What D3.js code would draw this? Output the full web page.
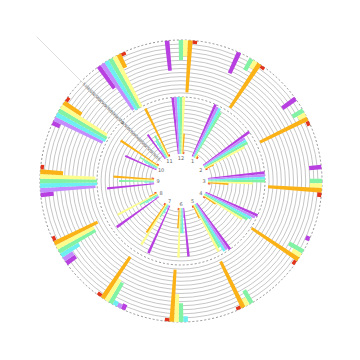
<!DOCTYPE html>
<html>
<head>
<meta charset="utf-8">
<script src="https://cdn.jsdelivr.net/npm/d3@7"></script>
<style>
  body { margin: 0; background: #fff; }
  svg { display: block; font-family: "DejaVu Sans", sans-serif; }
</style>
</head>
<body>
<div id="chart"></div>
<script>
// categories, clockwise from the top
const categories = ["12", "1", "2", "3", "4", "5", "6", "7", "8", "9", "10", "11"];
const seriesNames = ["A", "B", "C", "D", "E", "F", "G"];
const seriesColors = ["#b83fe0", "#c48cff", "#6eeff2", "#82f3a4", "#fdfd8e", "#fbb216", "#e2341d"];
const radiusTicks = [0, 5, 10, 15, 20, 25, 30, 35, 40, 45, 50, 55, 60, 65, 70];

// inner ring values (grow outward)
const innerA = [70, 70, 70, 70, 70, 70, 60, 64, 64, 58, 42, 37];
const innerB = [70, 68, 61, 70, 68, 68, 12, 6, 6, 6, 12, 12];
const innerC = [70, 68, 61, 70, 64, 68, 31, 12, 18, 12, 18, 25];
const innerD = [70, 64, 61, 70, 61, 61, 31, 18, 25, 43, 25, 31];
const innerE = [70, 6, 55, 55, 55, 65, 61, 59, 55, 25, 18, 18];
const innerF = [25, 4, 12, 25, 18, 18, 25, 43, 10, 50, 56, 66];
const innerG = [3, 3, 3, 3, 3, 3, 3, 3, 3, 3, 3, 3];

// outer ring values (grow inward from the rim)
const outerA = [37, 28, 20, 15, 5, 0, 0, 7, 14, 16, 10, 33];
const outerB = [0, 0, 0, 0, 0, 0, 0, 5, 14, 68, 66, 68];
const outerC = [0, 0, 0, 0, 0, 0, 7, 6, 26, 70, 68, 70];
const outerD = [25, 16, 15, 15, 20, 18, 23, 29, 52, 70, 68, 70];
const outerE = [20, 10, 10, 15, 12, 10, 34, 31, 52, 68, 66, 70];
const outerF = [64, 65, 65, 66, 69, 63, 64, 61, 59, 28, 26, 18];
const outerG = [4, 4, 4, 5, 4, 4, 4, 4, 4, 4, 4, 4];

const innerSeries = [innerA, innerB, innerC, innerD, innerE, innerF, innerG];
const outerSeries = [outerA, outerB, outerC, outerD, outerE, outerF, outerG];

const width = 360, height = 360;
const cx = 181, cy = 181;
const rHole = 27, rMid = 84, rRim = 141;

const svg = d3.select("#chart")
    .append("svg")
    .attr("width", width)
    .attr("height", height);

const g = svg.append("g")
    .attr("transform", `translate(${cx}, ${cy})`);

const step = 2 * Math.PI / categories.length;
const angle = d3.scaleBand()
    .domain(categories)
    .range([-step / 2, 2 * Math.PI - step / 2]);

const angleSub = d3.scaleBand()
    .domain(seriesNames)
    .range([0, angle.bandwidth()])
    .paddingOuter(4.4);

const rInner = d3.scaleLinear().domain([0, 70]).range([rHole, rMid]);
const rOuter = d3.scaleLinear().domain([0, 70]).range([rRim, rMid]);

// grid circles
const gridTicks = radiusTicks.slice(1, -1);
g.append("g").selectAll("circle")
    .data(gridTicks)
    .join("circle")
    .attr("r", d => rInner(d))
    .attr("fill", "none")
    .attr("stroke", "#a0a0a0")
    .attr("stroke-width", 0.6);

g.append("g").selectAll("circle")
    .data(gridTicks)
    .join("circle")
    .attr("r", d => rOuter(d))
    .attr("fill", "none")
    .attr("stroke", "#a0a0a0")
    .attr("stroke-width", 0.6);

g.append("g").selectAll("circle")
    .data([rMid, rRim])
    .join("circle")
    .attr("r", d => d)
    .attr("fill", "none")
    .attr("stroke", "#777")
    .attr("stroke-width", 0.8)
    .attr("stroke-dasharray", "2,2");

// radius axis line toward the top-left
const axAng = -Math.PI / 4;
g.append("line")
    .attr("x1", rHole * Math.sin(axAng))
    .attr("y1", -rHole * Math.cos(axAng))
    .attr("x2", 204 * Math.sin(axAng))
    .attr("y2", -204 * Math.cos(axAng))
    .attr("stroke", "#d4d4d4")
    .attr("stroke-width", 0.8);

// bars
const arc = d3.arc();
seriesNames.forEach((name, i) => {
    const inner = categories.map((c, j) => ({ cat: c, v: innerSeries[i][j] }));
    const outer = categories.map((c, j) => ({ cat: c, v: outerSeries[i][j] }));

    g.append("g").selectAll("path")
        .data(inner.filter(d => d.v > 0))
        .join("path")
        .attr("d", d => arc({
            innerRadius: rInner(0),
            outerRadius: rInner(d.v),
            startAngle: angle(d.cat) + angleSub(name),
            endAngle: angle(d.cat) + angleSub(name) + angleSub.bandwidth()
        }))
        .attr("fill", seriesColors[i]);

    g.append("g").selectAll("path")
        .data(outer.filter(d => d.v > 0))
        .join("path")
        .attr("d", d => arc({
            innerRadius: rOuter(d.v),
            outerRadius: rOuter(0),
            startAngle: angle(d.cat) + angleSub(name),
            endAngle: angle(d.cat) + angleSub(name) + angleSub.bandwidth()
        }))
        .attr("fill", seriesColors[i]);
});

// radius axis labels
const labelTicks = radiusTicks.slice(1);
function placeLabels(scale) {
    g.append("g").selectAll("text")
        .data(labelTicks)
        .join("text")
        .attr("transform", d => {
            const r = scale(d);
            return `translate(${r * Math.sin(axAng)}, ${-r * Math.cos(axAng)}) rotate(45)`;
        })
        .attr("text-anchor", "middle")
        .attr("dominant-baseline", "central")
        .style("font-size", "4px")
        .style("fill", "#666")
        .text(d => d);
}
placeLabels(rInner);
placeLabels(rOuter);

// angle labels around the hole
g.append("g").selectAll("text")
    .data(categories)
    .join("text")
    .attr("x", d => 23 * Math.sin(angle(d) + step / 2))
    .attr("y", d => -23 * Math.cos(angle(d) + step / 2))
    .attr("text-anchor", "middle")
    .attr("dominant-baseline", "central")
    .style("font-size", "5px")
    .style("fill", "#666")
    .text(d => d);
</script>
</body>
</html>
